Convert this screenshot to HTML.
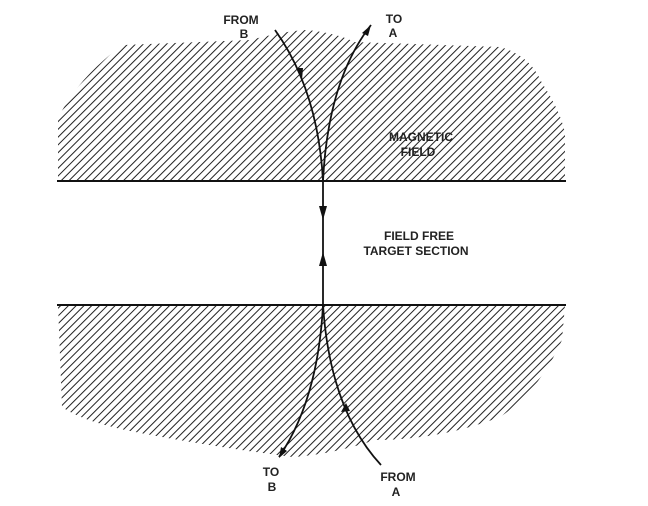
<!DOCTYPE html>
<html><head><meta charset="utf-8"><style>
html,body{margin:0;padding:0;background:#fff;}
svg{display:block;}
text{font-family:"Liberation Sans",sans-serif;font-size:12px;font-weight:bold;fill:#222;text-anchor:middle;}
</style></head><body>
<svg width="648" height="506" viewBox="0 0 648 506">
<defs>
<pattern id="h" patternUnits="userSpaceOnUse" width="5.5" height="5.5" patternTransform="rotate(45)">
<line x1="0" y1="0" x2="0" y2="5.5" stroke="#222" stroke-width="2"/>
</pattern>
</defs>
<path d="M58,181 L58,118 Q75,85 104,60 Q115,50 125,45 L250,40 Q290,30 308,30 Q340,34 354,42 L500,47 Q530,55 542,83 Q560,110 565,133 L565,181 Z" fill="url(#h)"/>
<path d="M58,305 L565,305 L562,340 Q540,390 500,417 Q440,440 375,440 Q330,455 292,457 Q200,445 125,430 Q80,420 62,407 Z" fill="url(#h)"/>
<line x1="57" y1="181" x2="566" y2="181" stroke="#111" stroke-width="2"/>
<line x1="57" y1="305" x2="566" y2="305" stroke="#111" stroke-width="2"/>
<g fill="none" stroke="#111" stroke-width="1.8">
<path d="M275,30 Q318,90 323,181"/>
<path d="M323,181 Q328,80 371,25"/>
<line x1="323" y1="181" x2="323" y2="305"/>
<path d="M323,305 Q318,400 279,457"/>
<path d="M323,305 Q330,410 381,465"/>
</g>
<g fill="#111">
<polygon points="297,68 303,68 302,80"/>
<polygon points="371,25 362,33 368,36"/>
<polygon points="319,206 327,206 323,220"/>
<polygon points="319,266 327,266 323,252"/>
<polygon points="279,458 281,447 287,451"/>
<polygon points="346,403 341,412 350,411"/>
</g>
<text x="241" y="24">FROM</text><text x="244" y="38">B</text>
<text x="394" y="23">TO</text><text x="393" y="37">A</text>
<text x="421" y="141">MAGNETIC</text><text x="418" y="156">FIELD</text>
<text x="419" y="240">FIELD FREE</text><text x="416" y="255">TARGET SECTION</text>
<text x="271" y="476">TO</text><text x="272" y="491">B</text>
<text x="398" y="481">FROM</text><text x="396" y="496">A</text>
</svg>
</body></html>
